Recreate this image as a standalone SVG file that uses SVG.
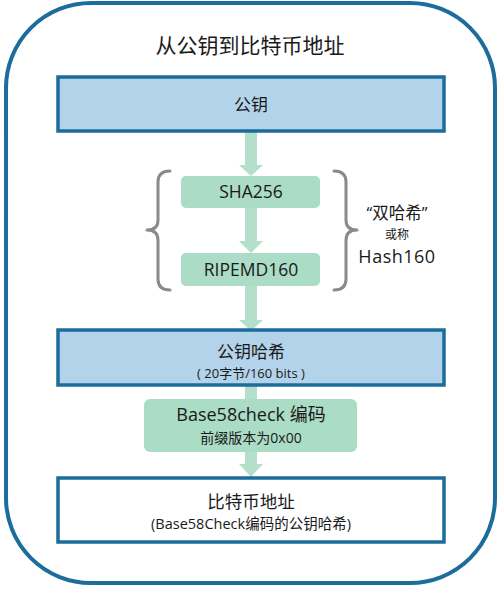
<svg xmlns="http://www.w3.org/2000/svg" width="501" height="592" viewBox="0 0 501 592">
<style>
text{font-family:"Open Sans","Noto Sans CJK SC",sans-serif;fill:#1a1a1a;text-anchor:middle}
.blue{fill:#b3d3ea;stroke:#1c6c9c;stroke-width:3.5}
.white{fill:#ffffff;stroke:#1c6c9c;stroke-width:3.5}
.green{fill:#aadcc6}
.arrow{fill:#b3dfcb}
.brace{fill:none;stroke:#8a8a8a;stroke-width:3;stroke-linecap:round;stroke-linejoin:round}
</style>
<rect x="6" y="3" width="489" height="580" rx="85" ry="85" fill="#ffffff" stroke="#1c6c9c" stroke-width="4"/>
<text x="250" y="53" font-size="21">从公钥到比特币地址</text>
<g id="connectors">
<path class="arrow" d="M245 131 H257 V165 H263 L251 176 L239 165 H245 Z"/>
<path class="arrow" d="M245 208 H257 V241 H263 L251 253 L239 241 H245 Z"/>
<path class="arrow" d="M245 286 H257 V320 H263 L251 331 L239 320 H245 Z"/>
<path class="arrow" d="M245 385 H257 V399 H245 Z"/>
<path class="arrow" d="M245 452 H257 V464 H263 L251 477 L239 464 H245 Z"/>
</g>
<g id="node-pubkey">
<rect class="blue" x="58" y="77" width="386" height="54"/>
<text x="251" y="111" font-size="17">公钥</text>
</g>
<g id="node-sha256">
<rect class="green" x="181" y="176" width="139" height="32" rx="5"/>
<text x="251" y="198" font-size="17.5">SHA256</text>
</g>
<g id="node-ripemd">
<rect class="green" x="181" y="253" width="139" height="33" rx="5"/>
<text x="251" y="276" font-size="17.5">RIPEMD160</text>
</g>
<g id="braces">
<path class="brace" d="M170 171 Q158 171 158 182 V220 Q158 230 147 230 Q158 230 158 240 V279 Q158 290 170 290"/>
<path class="brace" d="M334 171 Q346 171 346 182 V220 Q346 230 357 230 Q346 230 346 240 V279 Q346 290 334 290"/>
</g>
<g id="label-hash160">
<text x="397" y="219" font-size="16.5">“双哈希”</text>
<text x="397" y="239" font-size="12">或称</text>
<text x="397" y="263" font-size="18" letter-spacing="0.5">Hash160</text>
</g>
<g id="node-pubkeyhash">
<rect class="blue" x="58" y="330" width="386" height="55"/>
<text x="251" y="358" font-size="17">公钥哈希</text>
<text x="251" y="378" font-size="13">( 20字节/160 bits )</text>
</g>
<g id="node-base58">
<rect class="green" x="144" y="399" width="213" height="53" rx="6"/>
<text x="251" y="421" font-size="18">Base58check 编码</text>
<text x="251" y="443" font-size="14">前缀版本为0x00</text>
</g>
<g id="node-address">
<rect class="white" x="58" y="478" width="386" height="64"/>
<text x="251" y="508" font-size="17.5">比特币地址</text>
<text x="251" y="529" font-size="14.5">(Base58Check编码的公钥哈希)</text>
</g>
</svg>
